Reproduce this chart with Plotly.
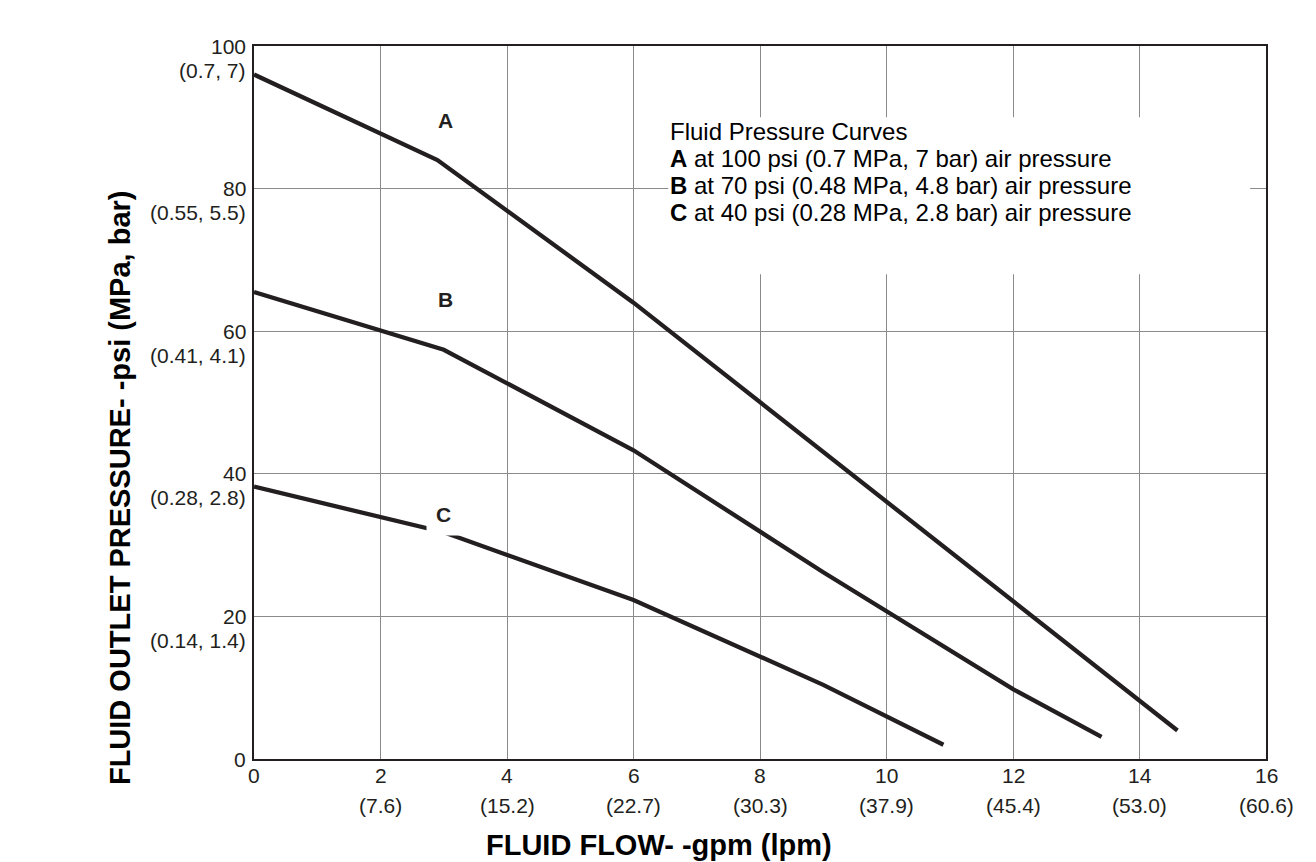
import plotly.graph_objects as go

# ---- data ----
flow_A = [0, 2.9, 6, 14.6]
press_A = [96, 84, 64, 4]
flow_B = [0, 3, 6, 9, 12, 13.4]
press_B = [65.5, 57.4, 43.3, 26.2, 9.8, 3.1]
flow_C = [0, 3, 6, 9, 10.9]
press_C = [38.2, 31.8, 22.3, 10.4, 2.0]

x_ticks = [0, 2, 4, 6, 8, 10, 12, 14, 16]
x_tick_lpm = ["", "(7.6)", "(15.2)", "(22.7)", "(30.3)", "(37.9)", "(45.4)", "(53.0)", "(60.6)"]
y_ticks = [0, 20, 40, 60, 80, 100]
y_tick_mpa = ["", "(0.14, 1.4)", "(0.28, 2.8)", "(0.41, 4.1)", "(0.55, 5.5)", "(0.7, 7)"]

curve_labels = ["A", "B", "C"]
label_pos_x = [3.02, 3.02, 3.0]
label_pos_y = [89.5, 64.5, 34.3]

legend_lines = [
    "Fluid Pressure Curves",
    "<b>A</b> at 100 psi (0.7 MPa, 7 bar) air pressure",
    "<b>B</b> at 70 psi (0.48 MPa, 4.8 bar) air pressure",
    "<b>C</b> at 40 psi (0.28 MPa, 2.8 bar) air pressure",
]

FONT = "Liberation Sans, Arial, sans-serif"
INK = "#231f20"

fig = go.Figure()
for fx, py in [(flow_A, press_A), (flow_B, press_B), (flow_C, press_C)]:
    fig.add_trace(go.Scatter(x=fx, y=py, mode="lines",
                             line=dict(color=INK, width=4.3), showlegend=False,
                             hoverinfo="skip"))

# white box behind legend text (hides gridlines)
fig.add_shape(type="rect", xref="x", yref="y", x0=6.55, x1=15.75, y0=68.0, y1=90.0,
              fillcolor="white", line=dict(width=0), layer="between")

annotations = []
# y tick labels
for v, m in zip(y_ticks, y_tick_mpa):
    annotations.append(dict(x=0, xref="paper", y=v, yref="y", text=str(v),
                            showarrow=False, xanchor="right", xshift=-6, yanchor="middle",
                            font=dict(family=FONT, size=21, color=INK)))
    if m:
        annotations.append(dict(x=0, xref="paper", y=v, yref="y", text=m,
                                showarrow=False, xanchor="right", xshift=-6, yanchor="middle",
                                yshift=-24, font=dict(family=FONT, size=21, color=INK)))
# x tick labels
for v, l in zip(x_ticks, x_tick_lpm):
    annotations.append(dict(x=v, xref="x", y=0, yref="paper", text=str(v),
                            showarrow=False, xanchor="center", yanchor="middle", yshift=-16,
                            font=dict(family=FONT, size=21, color=INK)))
    if l:
        annotations.append(dict(x=v, xref="x", y=0, yref="paper", text=l,
                                showarrow=False, xanchor="center", yanchor="middle", yshift=-46,
                                font=dict(family=FONT, size=21, color=INK)))
# curve labels with white background
for t, lx, ly in zip(curve_labels, label_pos_x, label_pos_y):
    annotations.append(dict(x=lx, y=ly, xref="x", yref="y", text="<b>" + t + "</b>",
                            showarrow=False, bgcolor="white", borderpad=9,
                            font=dict(family=FONT, size=21, color=INK)))
# legend text block
for i, line in enumerate(legend_lines):
    annotations.append(dict(x=6.55, xref="x", y=1, yref="paper", yshift=-85 - 27 * i,
                            text=line, showarrow=False, xanchor="left", yanchor="middle",
                            font=dict(family=FONT, size=24, color="black")))
# axis titles
annotations.append(dict(x=0.4, xref="paper", y=0, yref="paper", yshift=-86,
                        text="<b>FLUID FLOW- -gpm (lpm)</b>", showarrow=False,
                        xanchor="center", yanchor="middle",
                        font=dict(family=FONT, size=29, color="black")))
annotations.append(dict(x=0, xref="paper", xshift=-134, y=0.38, yref="paper",
                        text="<b>FLUID OUTLET PRESSURE- -psi (MPa, bar)</b>", showarrow=False,
                        textangle=-90, xanchor="center", yanchor="middle",
                        font=dict(family=FONT, size=29, color="black")))

fig.update_layout(
    width=1316, height=862,
    margin=dict(l=254, r=50, t=46, b=103),
    paper_bgcolor="white", plot_bgcolor="white",
    annotations=annotations,
    xaxis=dict(range=[0, 16], tickvals=x_ticks, showticklabels=False, ticks="",
               showgrid=True, gridcolor="#8a8a8a", gridwidth=1, zeroline=False,
               showline=True, linecolor=INK, linewidth=1.5, mirror=True, fixedrange=True),
    yaxis=dict(range=[0, 100], tickvals=y_ticks, showticklabels=False, ticks="",
               showgrid=True, gridcolor="#8a8a8a", gridwidth=1, zeroline=False,
               showline=True, linecolor=INK, linewidth=1.5, mirror=True, fixedrange=True),
)

fig.write_html("out.html")
